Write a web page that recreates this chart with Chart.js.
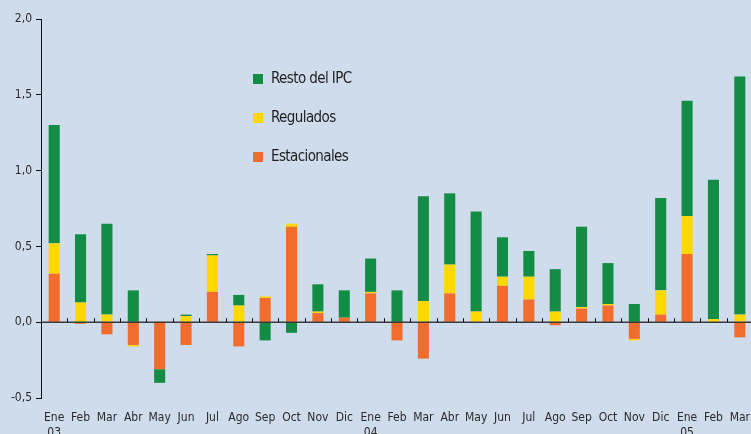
<!DOCTYPE html>
<html>
<head>
<meta charset="utf-8">
<script src="https://cdn.jsdelivr.net/npm/chart.js@4.4.1/dist/chart.umd.min.js"></script>
<style>
  html, body { margin: 0; padding: 0; overflow: hidden; background: #cfdcec; }
  #wrap { position: relative; width: 755px; height: 434px; background: #cfdcec; }
  #legend { position: absolute; left: 253px; top: 69px; font-family: "Liberation Sans Narrow", "DejaVu Sans Condensed", sans-serif; font-size: 15px; letter-spacing: -0.6px; color: #1e1e1e; }
  #legend div { height: 39px; display: flex; align-items: flex-start; }
  #legend span.box { display: inline-block; width: 10px; height: 10px; margin-right: 8px; margin-top: 5px; }
</style>
</head>
<body>
<div id="wrap">
  <canvas id="myBarChart" width="755" height="434"></canvas>
  <div id="legend"></div>
</div>
<script>
const meses = ['Ene', 'Feb', 'Mar', 'Abr', 'May', 'Jun', 'Jul', 'Ago', 'Sep', 'Oct', 'Nov', 'Dic',
  'Ene', 'Feb', 'Mar', 'Abr', 'May', 'Jun', 'Jul', 'Ago', 'Sep', 'Oct', 'Nov', 'Dic',
  'Ene', 'Feb', 'Mar'];
const anios = ['03', '', '', '', '', '', '', '', '', '', '', '',
  '04', '', '', '', '', '', '', '', '', '', '', '',
  '05', '', ''];

const estacionales = [0.32, -0.01, -0.08, -0.15, -0.31, -0.15, 0.20, -0.16, 0.16, 0.63, 0.06, 0.03,
  0.19, -0.12, -0.24, 0.19, 0, 0.24, 0.15, -0.02, 0.09, 0.11, -0.11, 0.05,
  0.45, 0, -0.10];
const regulados = [0.20, 0.13, 0.05, -0.01, 0.005, 0.04, 0.24, 0.11, 0.01, 0.02, 0.01, 0,
  0.01, 0, 0.14, 0.19, 0.07, 0.06, 0.15, 0.07, 0.01, 0.01, -0.01, 0.16,
  0.25, 0.02, 0.05];
const restoIPC = [0.78, 0.45, 0.60, 0.21, -0.09, 0.01, 0.01, 0.07, -0.12, -0.07, 0.18, 0.18,
  0.22, 0.21, 0.69, 0.47, 0.66, 0.26, 0.17, 0.28, 0.53, 0.27, 0.12, 0.61,
  0.76, 0.92, 1.57];

const colores = {
  resto: '#138d45',
  regulados: '#ffd800',
  estacionales: '#f26c2d'
};

const fuente = '"Liberation Sans Narrow", "DejaVu Sans Condensed", sans-serif';

// legend as html
const legendItems = [
  ['Resto del IPC', colores.resto],
  ['Regulados', colores.regulados],
  ['Estacionales', colores.estacionales]
];
document.getElementById('legend').innerHTML = legendItems
  .map(it => `<div><span class="box" style="background:${it[1]}"></span>${it[0]}</div>`)
  .join('');

// zero line with small ticks between months
const lineaCero = {
  id: 'lineaCero',
  afterDatasetsDraw(chart) {
    const ctx = chart.ctx;
    const x = chart.scales.x;
    const y = chart.scales.y;
    const y0 = y.getPixelForValue(0);
    ctx.save();
    ctx.strokeStyle = 'rgba(30,30,30,0.85)';
    ctx.lineWidth = 1.5;
    ctx.beginPath();
    ctx.moveTo(chart.chartArea.left, y0);
    ctx.lineTo(chart.chartArea.right, y0);
    ctx.stroke();
    ctx.lineWidth = 1;
    ctx.strokeStyle = '#111';
    ctx.beginPath();
    for (let i = 1; i < meses.length; i++) {
      const px = Math.round((x.getPixelForValue(i - 1) + x.getPixelForValue(i)) / 2) + 0.5;
      ctx.moveTo(px, y0);
      ctx.lineTo(px, y0 - 4);
    }
    ctx.stroke();
    ctx.restore();
  }
};

function createChart() {
  const labels = meses.map((m, i) => anios[i] ? [m, anios[i]] : m);
  const ctx = document.getElementById('myBarChart').getContext('2d');
  new Chart(ctx, {
    type: 'bar',
    data: {
      labels: labels,
      datasets: [
        { label: 'Estacionales', data: estacionales, backgroundColor: colores.estacionales },
        { label: 'Regulados', data: regulados, backgroundColor: colores.regulados },
        { label: 'Resto del IPC', data: restoIPC, backgroundColor: colores.resto }
      ]
    },
    options: {
      responsive: false,
      animation: false,
      barPercentage: 0.42,
      categoryPercentage: 1,
      layout: { padding: { top: 19, left: 0, right: 0, bottom: 0 } },
      scales: {
        x: {
          stacked: true,
          grid: { display: false },
          border: { display: false },
          ticks: {
            autoSkip: false,
            maxRotation: 0,
            padding: 5,
            color: '#2a2a2a',
            font: { family: fuente, size: 12 }
          },
          afterFit: function (scale) { scale.height = 36; }
        },
        y: {
          stacked: true,
          min: -0.5,
          max: 2.0,
          ticks: {
            stepSize: 0.5,
            padding: 4,
            color: '#2a2a2a',
            font: { family: fuente, size: 12 },
            callback: function (v) { return v.toFixed(1).replace('.', ','); }
          },
          grid: { drawOnChartArea: false, color: '#111', tickLength: 5 },
          border: { color: '#111', width: 1 },
          afterFit: function (scale) { scale.width = 41; }
        }
      },
      plugins: {
        legend: { display: false },
        tooltip: { enabled: false }
      }
    },
    plugins: [lineaCero]
  });
}

window.onload = createChart;
</script>
</body>
</html>
